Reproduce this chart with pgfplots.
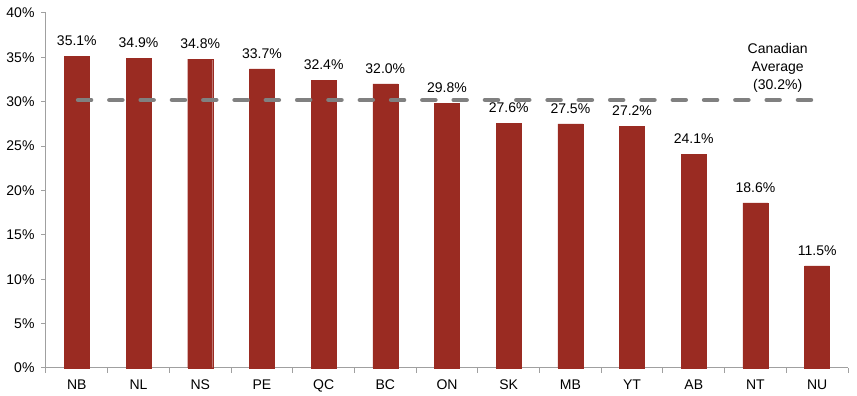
\documentclass[border=0pt]{standalone}
\usepackage{pgfplots}
\pgfplotsset{compat=1.18}
\usepackage{fontspec}
\setmainfont{Liberation Sans}
\definecolor{barred}{HTML}{9A2B22}
\definecolor{axgray}{HTML}{A0A0A0}
\definecolor{dashgray}{HTML}{808080}
\begin{document}
\begin{tikzpicture}[font=\fontsize{14pt}{16pt}\selectfont]
\begin{axis}[
  name=ax,
  scale only axis,
  width=802pt, height=355pt,
  xmin=-0.5, xmax=12.5,
  ymin=0, ymax=40,
  axis x line*=bottom, axis y line*=left,
  axis line style={axgray, line width=1pt},
  xtick={0,...,12},
  xticklabels={NB,NL,NS,PE,QC,BC,ON,SK,MB,YT,AB,NT,NU},
  minor xtick={-0.5,0.5,...,12.5},
  major x tick style={draw=none},
  minor x tick style={axgray, line width=1pt},
  ytick={0,5,...,40},
  y tick style={axgray, line width=1pt},
  tick align=outside,
  major tick length=5pt, minor tick length=5pt,
  yticklabel={\pgfmathprintnumber{\tick}\%},
  /pgf/number format/assume math mode=true,
  xticklabel style={yshift=-3pt},
  yticklabel style={xshift=-3pt},
  clip=false,
]
\addplot[ybar, bar width=25pt, fill=barred, draw=barred,
  nodes near coords={\pgfmathprintnumber[fixed,fixed zerofill,precision=1]{\pgfplotspointmeta}\%},
  nodes near coords style={anchor=south, yshift=7pt, text=black, /pgf/number format/assume math mode=true},
] coordinates {
(0,35.1) (1,34.9) (2,34.8) (3,33.7) (4,32.4) (5,32.0) (6,29.8)
(7,27.6) (8,27.5) (9,27.2) (10,24.1) (11,18.6) (12,11.5)
};
\addplot[dashgray, line width=4.5pt, dash pattern=on 13pt off 18.3pt, line cap=round]
  coordinates {(0.02,30.2) (11.97,30.2)};
\node[align=center, font=\fontsize{14pt}{18pt}\selectfont] at (axis cs:11.36,33.8) {Canadian\\Average\\(30.2\%)};
\end{axis}
\pgfresetboundingbox
\path ([xshift=-46pt,yshift=-28pt]ax.south west) rectangle ([xshift=9pt,yshift=13pt]ax.north east);
\end{tikzpicture}
\end{document}
